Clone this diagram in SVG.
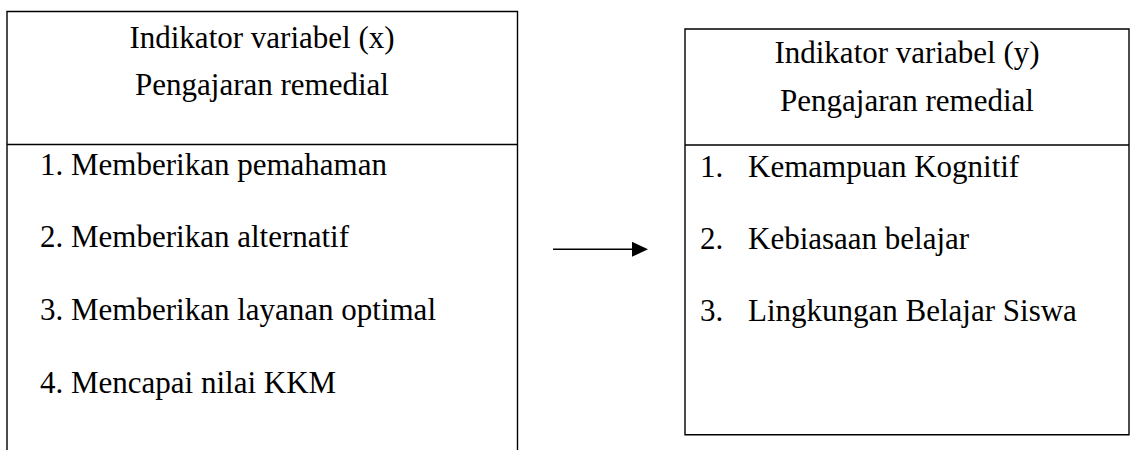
<svg xmlns="http://www.w3.org/2000/svg" width="1137" height="450" viewBox="0 0 1137 450">
<style>
.ln{stroke:#000;stroke-width:1.4;fill:none}
text{font-family:'Liberation Serif',serif;font-size:31px;fill:#000}
.c{text-anchor:middle}
</style>
<defs>
<marker id="ah" markerWidth="16" markerHeight="15" refX="0" refY="7.5" orient="auto" markerUnits="userSpaceOnUse">
<path d="M0,0 L16,7.5 L0,15 Z" fill="#000"/>
</marker>
</defs>
<rect width="1137" height="450" fill="#fff"/>
<g id="node-x" font-family="Liberation Serif, serif">
<path class="ln" d="M7,450 V11.5 H517.5 V450 M7,144.5 H517.5"/>
<text class="c" x="262" y="48">Indikator variabel (x)</text>
<text class="c" x="262" y="95">Pengajaran remedial</text>
<text x="40" y="175">1. Memberikan pemahaman</text>
<text x="40" y="247">2. Memberikan alternatif</text>
<text x="40" y="320">3. Memberikan layanan optimal</text>
<text x="40" y="393">4. Mencapai nilai KKM</text>
</g>
<g id="node-y" font-family="Liberation Serif, serif">
<path class="ln" d="M685,29 H1129 V434.7 H685 Z M685,145 H1129"/>
<text class="c" x="907" y="63">Indikator variabel (y)</text>
<text class="c" x="907" y="111">Pengajaran remedial</text>
<text x="700" y="177">1.</text>
<text x="748" y="177">Kemampuan Kognitif</text>
<text x="700" y="249">2.</text>
<text x="748" y="249">Kebiasaan belajar</text>
<text x="700" y="321">3.</text>
<text x="748" y="321">Lingkungan Belajar Siswa</text>
</g>
<g id="connectors">
<line class="ln" x1="553" y1="249.3" x2="632" y2="249.3" marker-end="url(#ah)"/>
</g>
</svg>
